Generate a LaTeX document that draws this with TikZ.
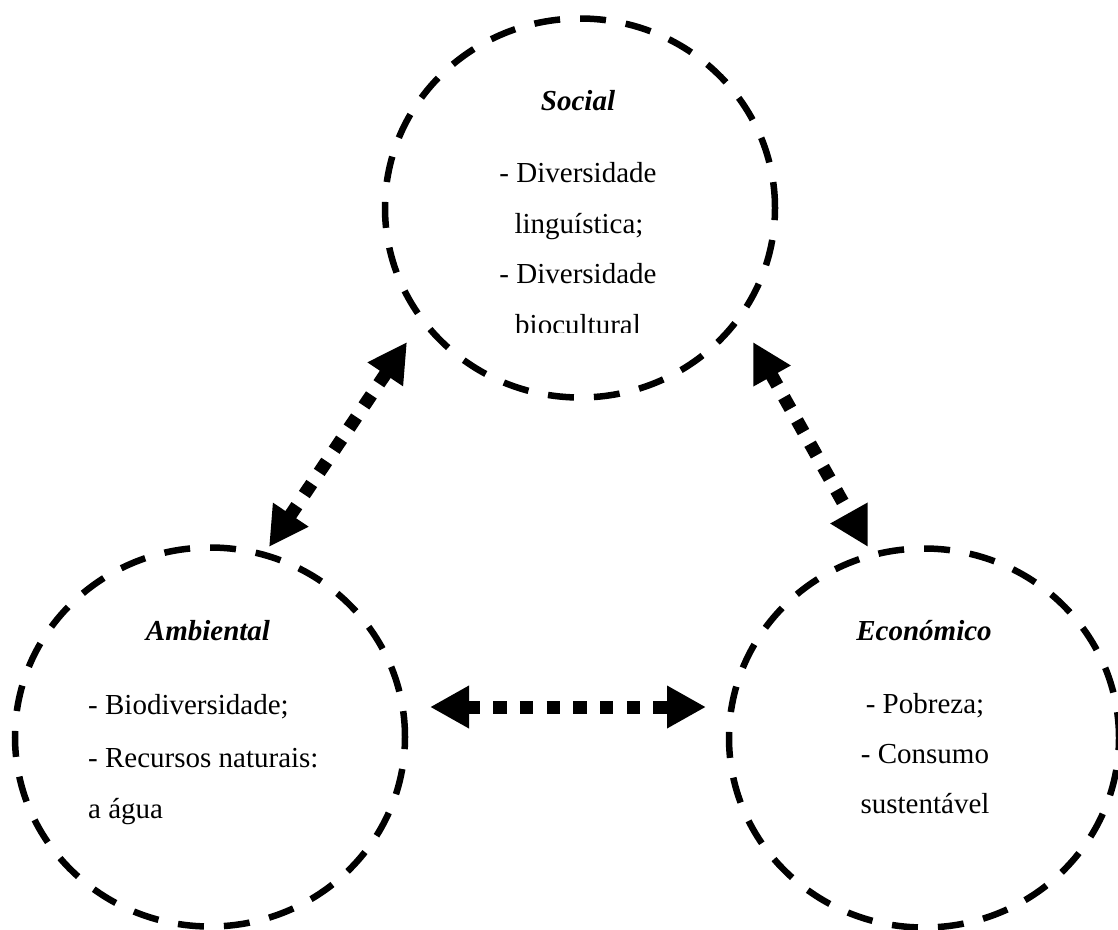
\documentclass[tikz,border=0pt]{standalone}
\usepackage{fontspec}
\setmainfont{Liberation Serif}
\usetikzlibrary{arrows.meta,shapes.geometric}
\begin{document}
\begin{tikzpicture}[x=1pt,y=-1pt,
  ring/.style={ellipse, draw, line width=6.5pt, dash pattern=on 26pt off 20pt,
    minimum width=390pt, minimum height=379pt, inner sep=0pt},
  txt/.style={anchor=base, inner sep=0pt, font=\fontsize{29}{35}\selectfont},
  ltxt/.style={txt, anchor=base west},
  ttl/.style={anchor=base, inner sep=0pt, font=\fontsize{29}{35}\selectfont\bfseries\itshape},
  conn/.style={line width=13pt, dash pattern=on 13.3pt off 13.4pt,
    {Triangle[length=39pt,width=40pt]}-{Triangle[length=39pt,width=40pt]}}]
\useasboundingbox (0,0) rectangle (1118,929);

% circles
\node[ring] (soc) at (580,208) {};
\node[ring] (amb) at (210,737) {};
\node[ring] (eco) at (924,738) {};

% Social text
\node[ttl] (socT) at (578,110) {Social};
\node[txt] (soc1) at (578,182) {- Diversidade};
\node[txt] (soc2) at (579,233) {linguística;};
\node[txt] (soc3) at (578,283) {- Diversidade};
\begin{scope}
  \clip (470,295) rectangle (690,332);
  \node[txt] (soc4) at (578,334) {biocultural};
\end{scope}

% Ambiental text
\node[ttl] (ambT) at (208,640) {Ambiental};
\node[ltxt] (amb1) at (88,714) {- Biodiversidade;};
\node[ltxt] (amb2) at (88,767) {- Recursos naturais:};
\node[ltxt] (amb3) at (88,818) {a água};

% Economico text
\node[ttl] (ecoT) at (924,640) {Económico};
\node[txt] (eco1) at (925,713) {- Pobreza;};
\node[txt] (eco2) at (925,763) {- Consumo};
\node[txt] (eco3) at (925,813) {sustentável};

% arrow end points
\coordinate (pA1) at (269,547);
\coordinate (pA2) at (407,342);
\coordinate (pB1) at (753,342);
\coordinate (pB2) at (868,547);
\coordinate (pC1) at (430,707);
\coordinate (pC2) at (706,707);

\draw[conn] (pA1) -- (pA2);
\draw[conn] (pB1) -- (pB2);
\draw[conn] (pC1) -- (pC2);
\end{tikzpicture}
\end{document}
